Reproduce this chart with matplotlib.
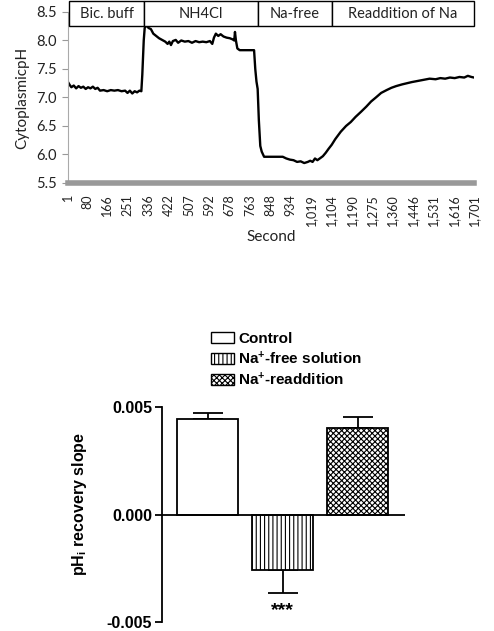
import matplotlib
matplotlib.use("Agg")
import matplotlib.pyplot as plt
import matplotlib.transforms as mtransforms
from matplotlib.patches import Rectangle, Patch

# ---- data: intracellular pH trace ----
time_s = [1, 8, 15, 25, 35, 45, 55, 65, 75, 85, 95, 105, 115, 125, 135, 150, 165, 180, 195,
          210, 225, 240, 250, 260, 270, 280, 290, 300, 308, 312, 318, 322, 330, 338, 348, 358,
          370, 382, 395, 408, 418, 425, 432, 440, 452, 462, 475, 490, 505, 520, 535, 550, 565,
          580, 595, 605, 612, 620, 630, 640, 652, 665, 678, 690, 697, 700, 704, 710, 720, 780,
          785, 790, 795, 800, 806, 812, 822, 900, 915, 930, 945, 960, 975, 990, 1005, 1015,
          1025, 1035, 1045, 1055, 1068, 1080, 1092, 1105, 1120, 1143, 1165, 1185, 1205, 1228,
          1250, 1270, 1290, 1312, 1335, 1355, 1375, 1400, 1420, 1440, 1465, 1490, 1515, 1540,
          1560, 1580, 1600, 1620, 1640, 1660, 1675, 1690, 1701]
ph = [7.27, 7.22, 7.18, 7.21, 7.16, 7.20, 7.17, 7.19, 7.15, 7.18, 7.16, 7.19, 7.15, 7.17, 7.12,
      7.13, 7.11, 7.13, 7.12, 7.13, 7.11, 7.12, 7.08, 7.12, 7.07, 7.11, 7.09, 7.12, 7.11, 7.40,
      8.00, 8.22, 8.27, 8.22, 8.20, 8.12, 8.08, 8.04, 8.01, 7.98, 7.94, 7.98, 7.92, 7.99, 8.01,
      7.96, 8.00, 7.98, 7.99, 7.96, 7.99, 7.97, 7.98, 7.97, 7.99, 7.94, 8.05, 8.12, 8.08, 8.11,
      8.07, 8.05, 8.04, 8.02, 8.00, 8.15, 8.00, 7.86, 7.83, 7.83, 7.50, 7.28, 7.15, 6.60, 6.15,
      6.05, 5.96, 5.96, 5.93, 5.91, 5.90, 5.87, 5.88, 5.85, 5.87, 5.89, 5.87, 5.93, 5.90, 5.93,
      5.97, 6.03, 6.10, 6.17, 6.27, 6.40, 6.50, 6.57, 6.66, 6.75, 6.84, 6.93, 7.00, 7.08, 7.13,
      7.17, 7.20, 7.23, 7.25, 7.27, 7.29, 7.31, 7.33, 7.32, 7.34, 7.33, 7.35, 7.34, 7.36, 7.35,
      7.38, 7.36, 7.35]
x_ticks = [1, 80, 166, 251, 336, 422, 507, 592, 678, 763, 848, 934, 1019, 1104, 1190, 1275,
           1360, 1446, 1531, 1616, 1701]
phases = ["Bic. buff", "NH4Cl", "Na-free", "Readdition of Na"]
phase_edges = [7, 318, 796, 1105, 1701]

# ---- data: recovery slope bars ----
groups = ["Control", "Na$^{+}$-free solution", "Na$^{+}$-readdition"]
slopes = [0.00444, -0.00259, 0.00403]
slope_err = [0.00028, 0.00107, 0.00051]

plt.rcParams["mathtext.fontset"] = "custom"
plt.rcParams["mathtext.rm"] = "Liberation Sans:bold"
plt.rcParams["mathtext.default"] = "rm"
plt.rcParams["hatch.linewidth"] = 0.8

fig = plt.figure(figsize=(4.94, 6.31), dpi=100)

# =====================
# top panel: pH trace
ax1 = fig.add_axes([0.1377, 0.71, 0.8219, 0.271])
ax1.plot(time_s, ph, color="black", lw=1.7)
ax1.set_xlim(1, 1701)
ax1.set_ylim(5.5, 8.5)
ax1.set_yticks([5.5, 6.0, 6.5, 7.0, 7.5, 8.0, 8.5])
ax1.set_yticklabels(["5.5", "6.0", "6.5", "7.0", "7.5", "8.0", "8.5"], fontsize=10.5,
                    family="Lato", color="#222222")
ax1.set_xticks(x_ticks)
ax1.set_xticklabels([f"{v:,}" for v in x_ticks], rotation=90, fontsize=9, family="Lato",
                    color="#222222")
ax1.tick_params(axis="y", length=4, color="#999999", pad=4)
ax1.tick_params(axis="x", length=0, pad=8)
for s in ["top", "right"]:
    ax1.spines[s].set_visible(False)
ax1.spines["left"].set_color("#aaaaaa")
ax1.spines["bottom"].set_color("#999999")
ax1.spines["bottom"].set_linewidth(4)
ax1.set_ylabel("CytoplasmicpH", fontsize=11, family="Lato", labelpad=5, color="#222222")
ax1.set_xlabel("Second", fontsize=11, family="Lato", labelpad=3, color="#222222")

# phase header boxes
trans = mtransforms.blended_transform_factory(ax1.transData, ax1.transAxes)
for i, name in enumerate(phases):
    x0, x1 = phase_edges[i], phase_edges[i + 1]
    ax1.add_patch(Rectangle((x0, 0.917), x1 - x0, 0.148, transform=trans, fill=True,
                            facecolor="white", edgecolor="black", lw=1, clip_on=False, zorder=5))
    ax1.text((x0 + x1) / 2, 0.99, name, transform=trans, ha="center", va="center",
             fontsize=10.5, family="Lato", zorder=6, color="#222222")

# =====================
# bottom panel: recovery slope
ax2 = fig.add_axes([0.328, 0.014, 0.492, 0.3405])
pos = [0, 1, 2]
hatches = ["", "||||", "xxxxxx"]
bars = ax2.bar(pos, slopes, width=0.81, color="white", edgecolor="black", lw=1.3,
               hatch=hatches, zorder=2)
err_lo = [0, slope_err[1], 0]
err_hi = [slope_err[0], 0, slope_err[2]]
ax2.errorbar(pos, slopes, yerr=[err_lo, err_hi], fmt="none", ecolor="black",
             elinewidth=1.3, capsize=11, capthick=1.3, zorder=1)
ax2.axhline(0, color="black", lw=1.3, zorder=3)
ax2.set_xlim(-0.607, 2.633)
ax2.set_ylim(-0.005, 0.005)
ax2.set_yticks([-0.005, 0.0, 0.005])
ax2.set_yticklabels(["-0.005", "0.000", "0.005"], fontsize=11.5, fontweight="bold",
                    family="Liberation Sans")
ax2.set_xticks([])
ax2.tick_params(axis="y", length=5, width=1.3, pad=2)
for s in ["top", "right", "bottom"]:
    ax2.spines[s].set_visible(False)
ax2.spines["left"].set_linewidth(1.3)
ax2.set_ylabel("pH$_{i}$ recovery slope", fontsize=11.5, fontweight="bold",
               family="Liberation Sans")
ax2.yaxis.set_label_coords(-0.30, 0.55)
ax2.text(1, slopes[1] - slope_err[1] - 0.0004, "***", ha="center", va="top",
         fontsize=14, fontweight="bold", family="Liberation Sans")

handles = [Patch(facecolor="white", edgecolor="black", hatch=h, lw=1) for h in hatches]
fig.legend(handles, groups, loc="upper left", bbox_to_anchor=(0.428, 0.474),
           frameon=False, prop={"family": "Liberation Sans", "weight": "bold", "size": 11},
           handlelength=1.45, handleheight=0.75, labelspacing=0.25, handletextpad=0.3,
           borderpad=0, borderaxespad=0)

fig.savefig("out.png", dpi=100)
